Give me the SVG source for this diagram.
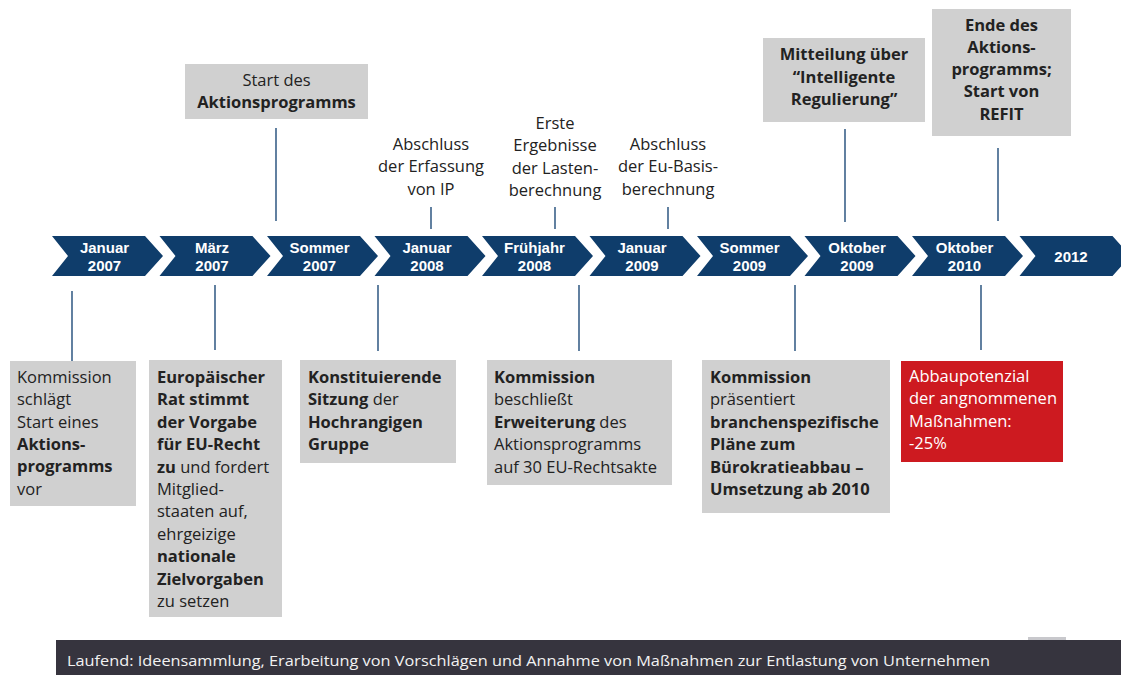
<svg xmlns="http://www.w3.org/2000/svg" width="1121" height="675" viewBox="0 0 1121 675">
<style>
.chev{fill:#0f3d6b}
.ct{font-family:"Liberation Sans","Open Sans",sans-serif;font-size:15px;font-weight:700;fill:#ffffff;text-anchor:middle}
.box{fill:#d0d0d0}
.red{fill:#cd1a20}
.t{font-family:"Open Sans","Liberation Sans",sans-serif;font-size:16.5px;fill:#222222}
.tc{text-anchor:middle}
.b{font-weight:700}
.w{fill:#ffffff}
.ln{stroke:#3a6189;stroke-width:1.6;fill:none}
.bar{fill:#36343e}
.bt{font-family:"Open Sans","Liberation Sans",sans-serif;font-size:15px;fill:#f2f2f2}
</style>
<rect width="1121" height="675" fill="#ffffff"/>

<g id="timeline">
<g id="chev-jan2007"><path class="chev" d="M52,236H145L163,256L145,276H52L68,256Z"/><text class="ct" x="104.5" y="253">Januar</text><text class="ct" x="104.5" y="270.5">2007</text></g>
<g id="chev-mar2007"><path class="chev" d="M159.5,236H252.5L270.5,256L252.5,276H159.5L175.5,256Z"/><text class="ct" x="212" y="253">März</text><text class="ct" x="212" y="270.5">2007</text></g>
<g id="chev-som2007"><path class="chev" d="M267,236H360L378,256L360,276H267L283,256Z"/><text class="ct" x="319.5" y="253">Sommer</text><text class="ct" x="319.5" y="270.5">2007</text></g>
<g id="chev-jan2008"><path class="chev" d="M374.5,236H467.5L485.5,256L467.5,276H374.5L390.5,256Z"/><text class="ct" x="427" y="253">Januar</text><text class="ct" x="427" y="270.5">2008</text></g>
<g id="chev-fru2008"><path class="chev" d="M482,236H575L593,256L575,276H482L498,256Z"/><text class="ct" x="534.5" y="253">Frühjahr</text><text class="ct" x="534.5" y="270.5">2008</text></g>
<g id="chev-jan2009"><path class="chev" d="M589.5,236H682.5L700.5,256L682.5,276H589.5L605.5,256Z"/><text class="ct" x="642" y="253">Januar</text><text class="ct" x="642" y="270.5">2009</text></g>
<g id="chev-som2009"><path class="chev" d="M697,236H790L808,256L790,276H697L713,256Z"/><text class="ct" x="749.5" y="253">Sommer</text><text class="ct" x="749.5" y="270.5">2009</text></g>
<g id="chev-okt2009"><path class="chev" d="M804.5,236H897.5L915.5,256L897.5,276H804.5L820.5,256Z"/><text class="ct" x="857" y="253">Oktober</text><text class="ct" x="857" y="270.5">2009</text></g>
<g id="chev-okt2010"><path class="chev" d="M912,236H1005L1023,256L1005,276H912L928,256Z"/><text class="ct" x="964.5" y="253">Oktober</text><text class="ct" x="964.5" y="270.5">2010</text></g>
<g id="chev-2012"><path class="chev" d="M1019.5,236H1112.5L1130.5,256L1112.5,276H1019.5L1035.5,256Z"/><text class="ct" x="1071" y="262">2012</text></g>
</g>

<g id="connectors">
<line class="ln" x1="276" y1="128" x2="276" y2="221"/>
<line class="ln" x1="431" y1="207" x2="431" y2="229"/>
<line class="ln" x1="555" y1="207" x2="555" y2="229"/>
<line class="ln" x1="668" y1="207" x2="668" y2="229"/>
<line class="ln" x1="845" y1="129" x2="845" y2="222"/>
<line class="ln" x1="998" y1="148" x2="998" y2="221"/>
<line class="ln" x1="72" y1="291" x2="72" y2="361"/>
<line class="ln" x1="215" y1="285" x2="215" y2="350"/>
<line class="ln" x1="378" y1="285" x2="378" y2="351"/>
<line class="ln" x1="579" y1="285" x2="579" y2="351"/>
<line class="ln" x1="795" y1="285" x2="795" y2="351"/>
<line class="ln" x1="981" y1="285" x2="981" y2="350"/>
</g>

<g id="top-start">
<rect class="box" x="185" y="64" width="183" height="55"/>
<text class="t tc" x="276.5" y="86">Start des</text>
<text class="t tc b" x="276.5" y="108">Aktionsprogramms</text>
</g>
<g id="top-erfassung">
<text class="t tc" x="431" y="150">Abschluss</text>
<text class="t tc" x="431" y="172">der Erfassung</text>
<text class="t tc" x="431" y="195">von IP</text>
</g>
<g id="top-ergebnisse">
<text class="t tc" x="555" y="129">Erste</text>
<text class="t tc" x="555" y="151">Ergebnisse</text>
<text class="t tc" x="555" y="174">der Lasten-</text>
<text class="t tc" x="555" y="196">berechnung</text>
</g>
<g id="top-basis">
<text class="t tc" x="668" y="150">Abschluss</text>
<text class="t tc" x="668" y="172">der Eu-Basis-</text>
<text class="t tc" x="668" y="195">berechnung</text>
</g>
<g id="top-mitteilung">
<rect class="box" x="763" y="38" width="162" height="84"/>
<text class="t tc b" x="844" y="60">Mitteilung über</text>
<text class="t tc b" x="844" y="83">“Intelligente</text>
<text class="t tc b" x="844" y="105">Regulierung”</text>
</g>
<g id="top-ende">
<rect class="box" x="932" y="9" width="139" height="127"/>
<text class="t tc b" x="1001.5" y="31">Ende des</text>
<text class="t tc b" x="1001.5" y="53">Aktions-</text>
<text class="t tc b" x="1001.5" y="75">programms;</text>
<text class="t tc b" x="1001.5" y="97">Start von</text>
<text class="t tc b" x="1001.5" y="120">REFIT</text>
</g>

<g id="bot-kommission">
<rect class="box" x="10" y="361" width="126" height="145"/>
<text class="t" x="17" y="383">Kommission</text>
<text class="t" x="17" y="405">schlägt</text>
<text class="t" x="17" y="428">Start eines</text>
<text class="t b" x="17" y="450">Aktions-</text>
<text class="t b" x="17" y="472">programms</text>
<text class="t" x="17" y="495">vor</text>
</g>
<g id="bot-rat">
<rect class="box" x="149" y="360" width="133" height="257"/>
<text class="t b" x="157" y="383">Europäischer</text>
<text class="t b" x="157" y="405.4">Rat stimmt</text>
<text class="t b" x="157" y="427.8">der Vorgabe</text>
<text class="t b" x="157" y="450.2">für EU-Recht</text>
<text class="t" x="157" y="472.6"><tspan class="b">zu</tspan> und fordert</text>
<text class="t" x="157" y="495">Mitglied-</text>
<text class="t" x="157" y="517.4">staaten auf,</text>
<text class="t" x="157" y="539.8">ehrgeizige</text>
<text class="t b" x="157" y="562.2">nationale</text>
<text class="t b" x="157" y="584.6">Zielvorgaben</text>
<text class="t" x="157" y="607">zu setzen</text>
</g>
<g id="bot-sitzung">
<rect class="box" x="300" y="360" width="156" height="103"/>
<text class="t b" x="308" y="383">Konstituierende</text>
<text class="t" x="308" y="405.4"><tspan class="b">Sitzung</tspan> der</text>
<text class="t b" x="308" y="427.8">Hochrangigen</text>
<text class="t b" x="308" y="450.2">Gruppe</text>
</g>
<g id="bot-erweiterung">
<rect class="box" x="487" y="360" width="185" height="125"/>
<text class="t b" x="494" y="383">Kommission</text>
<text class="t" x="494" y="405.4">beschließt</text>
<text class="t" x="494" y="427.8"><tspan class="b">Erweiterung</tspan> des</text>
<text class="t" x="494" y="450.2">Aktionsprogramms</text>
<text class="t" x="494" y="472.6">auf 30 EU-Rechtsakte</text>
</g>
<g id="bot-plaene">
<rect class="box" x="702" y="360" width="188" height="153"/>
<text class="t b" x="710" y="383">Kommission</text>
<text class="t" x="710" y="405.4">präsentiert</text>
<text class="t b" x="710" y="427.8">branchenspezifische</text>
<text class="t b" x="710" y="450.2">Pläne zum</text>
<text class="t b" x="710" y="472.6">Bürokratieabbau –</text>
<text class="t b" x="710" y="495">Umsetzung ab 2010</text>
</g>
<g id="bot-abbau">
<rect class="red" x="901" y="361" width="162" height="101"/>
<text class="t w" x="909" y="382">Abbaupotenzial</text>
<text class="t w" x="909" y="404.4">der angnommenen</text>
<text class="t w" x="909" y="426.8">Maßnahmen:</text>
<text class="t w" x="909" y="449.2">-25%</text>
</g>

<g id="footer">
<rect x="1028" y="637" width="38" height="4" fill="#c8c8cc"/>
<rect class="bar" x="56" y="640" width="1065" height="35"/>
<text class="bt" x="67" y="666" textLength="923" lengthAdjust="spacingAndGlyphs">Laufend: Ideensammlung, Erarbeitung von Vorschlägen und Annahme von Maßnahmen zur Entlastung von Unternehmen</text>
</g>
</svg>
